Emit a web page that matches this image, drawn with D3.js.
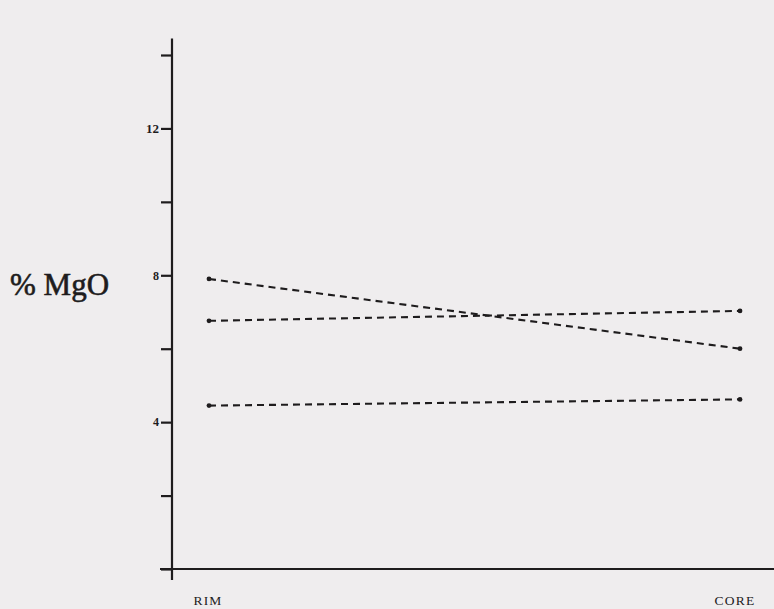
<!DOCTYPE html>
<html>
<head>
<meta charset="utf-8">
<script src="https://cdn.jsdelivr.net/npm/d3@7"></script>
<style>
  html, body { margin: 0; padding: 0; background: #efedee; }
  svg { display: block; }
</style>
</head>
<body>
<svg id="chart" width="774" height="609"></svg>
<script>
// Positions sampled from rim to core
const positions = ["RIM", "CORE"];

// %MgO at rim and core for each profile
const profileA = [7.9, 6.0];
const profileB = [6.76, 7.03];
const profileC = [4.45, 4.62];

// Axis ticks: every 2 %, labelled at 4, 8, 12
const yTicks = [0, 2, 4, 6, 8, 10, 12, 14];
const yLabelled = [4, 8, 12];

const svg = d3.select("#chart");
const ink = "#1e1c1d";
const serif = "'Liberation Serif', 'DejaVu Serif', serif";

const x = d3.scalePoint().domain(positions).range([209, 740]);
const y = d3.scaleLinear().domain([0, 14]).range([569, 55]);

// Vertical axis
svg.append("line")
  .attr("x1", 172).attr("x2", 172)
  .attr("y1", y(14.45)).attr("y2", 580)
  .attr("stroke", ink).attr("stroke-width", 2.2);

// Horizontal axis
svg.append("line")
  .attr("x1", 160).attr("x2", 774)
  .attr("y1", y(0)).attr("y2", y(0))
  .attr("stroke", ink).attr("stroke-width", 2.2);

// Ticks on the left of the y axis
const yAxis = d3.axisLeft(y)
  .tickValues(yTicks)
  .tickSize(11)
  .tickFormat(d => yLabelled.includes(d) ? d : "");
const gy = svg.append("g").attr("transform", "translate(172,0)").call(yAxis);
gy.select(".domain").remove();
gy.selectAll(".tick line").attr("stroke", ink).attr("stroke-width", 2.2);
gy.selectAll(".tick text")
  .attr("x", -13).attr("dx", 0)
  .attr("fill", ink)
  .style("font-family", serif)
  .style("font-weight", "bold")
  .style("font-size", d => d === 12 ? "13px" : "12px");

// Category labels
svg.selectAll("text.cat").data(positions).enter().append("text")
  .attr("class", "cat")
  .attr("x", (d, i) => x(d) + (i === 0 ? -1 : -5))
  .attr("y", 605)
  .attr("text-anchor", "middle")
  .attr("fill", ink)
  .style("font-family", serif)
  .style("font-size", "13.5px")
  .style("letter-spacing", "1.2px")
  .text(d => d);

// Y axis title
svg.append("text")
  .attr("x", 10).attr("y", 295)
  .attr("fill", ink)
  .attr("stroke", ink)
  .attr("stroke-width", 0.6)
  .style("font-family", serif)
  .style("font-size", "31px")
  .text("% MgO");

// Dashed profiles
const profiles = [profileA, profileB, profileC];
const line = d3.line()
  .x((d, i) => x(positions[i]))
  .y(d => y(d));

svg.selectAll("path.profile").data(profiles).enter().append("path")
  .attr("class", "profile")
  .attr("d", d => line(d))
  .attr("fill", "none")
  .attr("stroke", ink)
  .attr("stroke-width", 2.1)
  .attr("stroke-dasharray", "7,5");

profiles.forEach(p => {
  svg.selectAll(null).data(p).enter().append("circle")
    .attr("cx", (d, i) => x(positions[i]))
    .attr("cy", d => y(d))
    .attr("r", 2.4)
    .attr("fill", ink);
});
</script>
</body>
</html>
